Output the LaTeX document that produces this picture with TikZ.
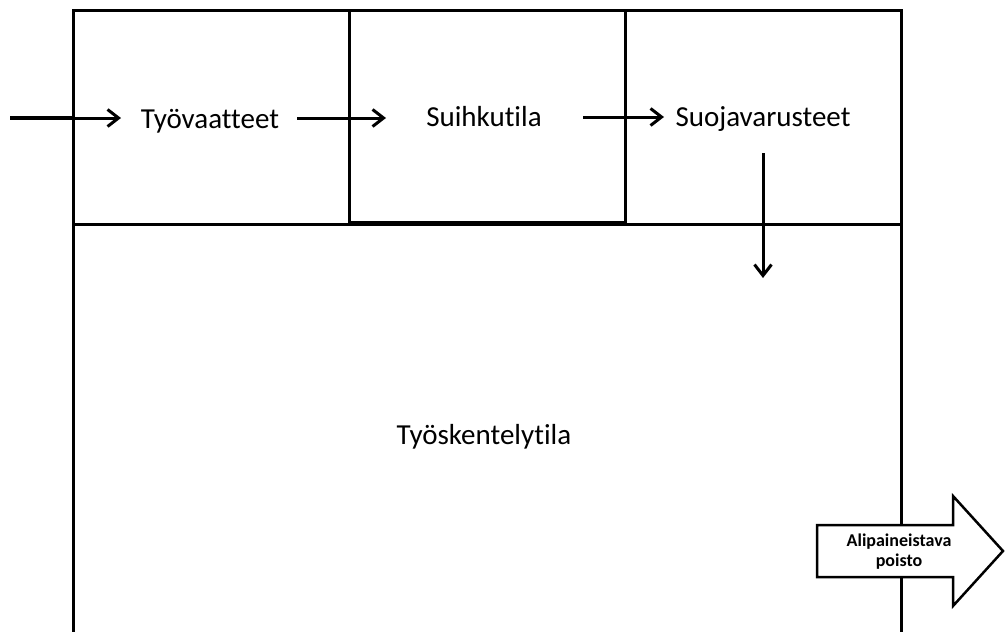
\documentclass[tikz,border=0pt]{standalone}
\usepackage{fontspec}
\setmainfont[Ligatures=NoCommon]{Carlito}
\usetikzlibrary{arrows.meta}
\begin{document}
\begin{tikzpicture}[x=1pt,y=-1pt,
  wall/.style={line width=3pt},
  flow/.style={line width=3pt,-{Straight Barb[length=11pt,width=17pt,line width=3pt]}},
  lbl/.style={font=\fontsize{29}{32}\selectfont, inner sep=0pt}]
\useasboundingbox (0,0) rectangle (1005,632);
% walls
\draw[wall] (73,632) -- (73,10) -- (901,10) -- (901,632);
\draw[wall] (73,224) -- (901,224);
\draw[wall] (349,10) -- (349,224);
\draw[wall] (625,10) -- (625,224);
\draw[line width=2.5pt] (349,222.5) -- (625,222.5);
% labels
\node[lbl] (tv) at (210,121) {Työvaatteet};
\node[lbl] (sh) at (484,117) {Suihkutila};
\node[lbl] (sv) at (763,119) {Suojavarusteet};
\node[lbl] (tt) at (484,437) {Työskentelytila};
% flow arrow end points
\coordinate (in) at (10,118);
\coordinate (w) at (73,118);
\coordinate (a1) at (121,118);
\coordinate (b0) at (297,118);
\coordinate (b1) at (386,118);
\coordinate (c0) at (583,117);
\coordinate (c1) at (664,117);
\coordinate (d0) at (763,153);
\coordinate (d1) at (763,278);
\draw[line width=4pt] (in) -- (w);
\draw[flow] (w) -- (a1);
\draw[flow] (b0) -- (b1);
\draw[flow] (c0) -- (c1);
\draw[flow] (d0) -- (d1);
% block arrow
\draw[line width=2.5pt, fill=white, line join=miter]
  (817,525) -- (953,525) -- (953,496) -- (1003,551) -- (953,606) -- (953,577) -- (817,577) -- cycle;
\node[font=\bfseries\fontsize{18}{20}\selectfont, align=center, inner sep=0pt] (ap) at (899,552) {Alipaineistava\\poisto};
\end{tikzpicture}
\end{document}
